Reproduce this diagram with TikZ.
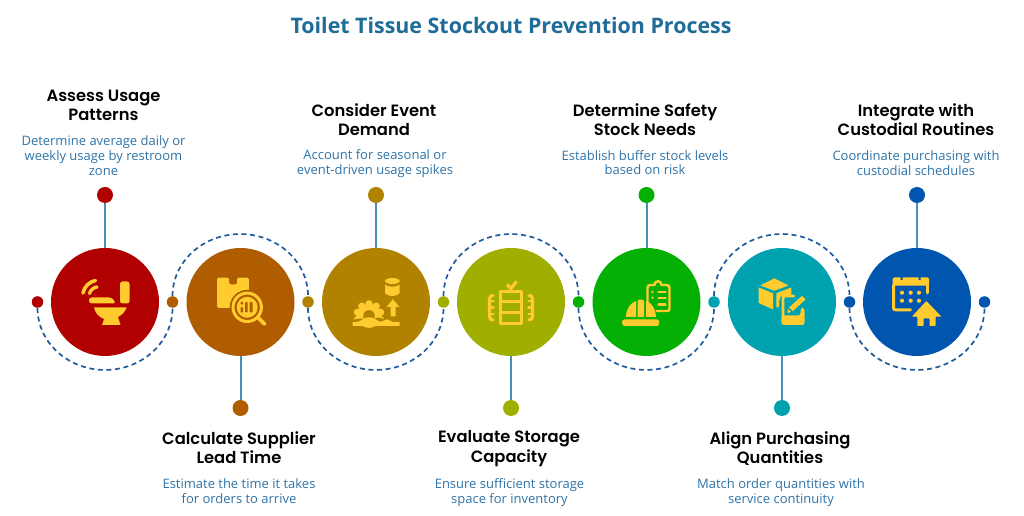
\documentclass[tikz,border=0pt]{standalone}
\usepackage{fontspec}
\setmainfont{Open Sans}
\newfontfamily\headfont{Poppins SemiBold}
\newfontfamily\titlefont{Open Sans}[UprightFont=* Bold]
\definecolor{cA}{HTML}{B00000}
\definecolor{cB}{HTML}{B05C00}
\definecolor{cC}{HTML}{B08200}
\definecolor{cD}{HTML}{A0AE00}
\definecolor{cE}{HTML}{04B004}
\definecolor{cF}{HTML}{00A2B0}
\definecolor{cG}{HTML}{0055AE}
\definecolor{ico}{HTML}{FFCB2E}
\definecolor{ttl}{HTML}{1F6C98}
\definecolor{bodyc}{HTML}{2F74A8}
\definecolor{stem}{HTML}{4A8DB8}
\definecolor{arcc}{HTML}{1F5C9E}
\tikzset{
 big/.style={circle,minimum size=108pt,inner sep=0pt,fill=#1},
 small/.style={circle,minimum size=11.5pt,inner sep=0pt,fill=#1},
 enddot/.style={circle,minimum size=16pt,inner sep=0pt,fill=#1},
 stemline/.style={draw=stem,line width=2pt},
 dashline/.style={draw=arcc,line width=1.7pt,dash pattern=on 5pt off 3.6pt},
 head/.style={align=center,font=\headfont\fontsize{16.35}{19.5}\selectfont,text=black,inner sep=0pt},
 body/.style={align=center,font=\fontsize{13}{14.7}\selectfont,text=bodyc,inner sep=0pt},
 ifill/.style={fill=ico,draw=none},
 iline/.style={draw=ico,line width=#1,line cap=round,line join=round,fill=none},
 iline/.default=3pt
}
\newcommand{\iconat}[2]{\begin{scope}[shift={(#1.center)},yscale=-1,x=1pt,y=1pt]#2\end{scope}}
\begin{document}
\begin{tikzpicture}[x=1pt,y=1pt]
\useasboundingbox (0,0) rectangle (1024,516);
\fill[white] (0,0) rectangle (1024,516);
\node[font=\titlefont\fontsize{21.4}{24}\selectfont,text=ttl,inner sep=0pt] (title) at (511,491) {Toilet Tissue Stockout Prevention Process};
% small dots
\node[small=cA] (d1) at (37.5,214) {};
\node[small=cB] (d2) at (172.5,214) {};
\node[small=cC] (d3) at (308,214) {};
\node[small=cD] (d4) at (443.5,214) {};
\node[small=cE] (d5) at (578.5,214) {};
\node[small=cF] (d6) at (714,214) {};
\node[small=cG] (d7) at (849.5,214) {};
\node[small=cG] (d8) at (984.5,214) {};
% dashed arcs
\draw[dashline] (d1.south) arc[start angle=180,end angle=360,x radius=67.5,y radius=62];
\draw[dashline] (d2.north) arc[start angle=180,end angle=0,x radius=67.75,y radius=62];
\draw[dashline] (d3.south) arc[start angle=180,end angle=360,x radius=67.75,y radius=62];
\draw[dashline] (d4.north) arc[start angle=180,end angle=0,x radius=67.5,y radius=62];
\draw[dashline] (d5.south) arc[start angle=180,end angle=360,x radius=67.75,y radius=62];
\draw[dashline] (d6.north) arc[start angle=180,end angle=0,x radius=67.75,y radius=62];
\draw[dashline] (d7.south) arc[start angle=180,end angle=360,x radius=67.5,y radius=62];
% end dots
\node[enddot=cA] (e1) at (105,321) {};
\node[enddot=cB] (e2) at (240.5,108) {};
\node[enddot=cC] (e3) at (376,321) {};
\node[enddot=cD] (e4) at (511,108) {};
\node[enddot=cE] (e5) at (646.5,321) {};
\node[enddot=cF] (e6) at (782,108) {};
\node[enddot=cG] (e7) at (917,321) {};
% big circles
\node[big=cA] (c1) at (105,214) {};
\node[big=cB] (c2) at (240.5,214) {};
\node[big=cC] (c3) at (376,214) {};
\node[big=cD] (c4) at (511,214) {};
\node[big=cE] (c5) at (646.5,214) {};
\node[big=cF] (c6) at (782,214) {};
\node[big=cG] (c7) at (917,214) {};
% stems
\draw[stemline] (c1) -- (e1);
\draw[stemline] (c2) -- (e2);
\draw[stemline] (c3) -- (e3);
\draw[stemline] (c4) -- (e4);
\draw[stemline] (c5) -- (e5);
\draw[stemline] (c6) -- (e6);
\draw[stemline] (c7) -- (e7);
% texts
\node[head] (h1) at (103.5,410.5) {Assess Usage\\Patterns};
\node[body] (b1) at (103.5,360.5) {Determine average daily or\\weekly usage by restroom\\zone};
\node[head] (h2) at (239,68.5) {Calculate Supplier\\Lead Time};
\node[body] (b2) at (239,25) {Estimate the time it takes\\for orders to arrive};
\node[head] (h3) at (374,396.5) {Consider Event\\Demand};
\node[body] (b3) at (375,352.5) {Account for seasonal or\\event-driven usage spikes};
\node[head] (h4) at (509,67.5) {Evaluate Storage\\Capacity};
\node[body] (b4) at (509.5,23.5) {Ensure sufficient storage\\space for inventory};
\node[head] (h5) at (645,396.5) {Determine Safety\\Stock Needs};
\node[body] (b5) at (645,353.5) {Establish buffer stock levels\\based on risk};
\node[head] (h6) at (780,67.5) {Align Purchasing\\Quantities};
\node[body] (b6) at (781,23.5) {Match order quantities with\\service continuity};
\node[head] (h7) at (916,396.5) {Integrate with\\Custodial Routines};
\node[body] (b7) at (916,353) {Coordinate purchasing with\\custodial schedules};
% icon 1: toilet
\iconat{c1}{
 \fill[ifill,rounded corners=2.5pt] (15,-20.5) rectangle (24.5,1.5);
 \fill[ifill,rounded corners=2.8pt] (-16,-4.5) -- (7,-4.5) -- (11,1.5) -- (-16,1.5) -- cycle;
 \fill[ifill] (-11,5.3) -- (21.7,5.3) .. controls (20,10) and (17,13) .. (13,15) -- (15.5,23) -- (-3,23) -- (-1,17) .. controls (-7,15) and (-10,10) .. (-11,5.3) -- cycle;
 \draw[iline=3.6pt] (-22,-9) .. controls (-21,-15) and (-15.5,-20.5) .. (-9.5,-21.5);
 \draw[iline=3.4pt] (-15.5,-8.5) .. controls (-14.5,-12) and (-11.5,-14.5) .. (-8,-15);
}
% icon 2: parcel and magnifier
\iconat{c2}{
 \fill[ifill,rounded corners=1.5pt] (-23.5,-24.3) -- (-11.5,-24.3) -- (-11.5,-17.5) -- (-3.5,-17.5) -- (-3.5,-24.3) -- (8.3,-24.3) -- (8.3,6) -- (-23.5,6) -- cycle;
 \fill[cB] (6.7,5.3) circle (17.5);
 \draw[iline=3pt,fill=none] (6.7,5.3) circle (14.2);
 \fill[ico] (6.7,5.3) circle (10.5);
 \draw[iline=3.8pt] (17.5,15.5) -- (24,22);
 \fill[cB] (0,0) rectangle (2.5,2.5) (0,5.5) rectangle (2.5,10.5);
 \fill[cB,rounded corners=0.8pt] (4.7,0) rectangle (7.2,10.5) (9.2,0) rectangle (12,10.5);
}
% icon 3: gear, arrow, drum
\iconat{c3}{
 \fill[ifill] (9,-17.5) .. controls (11,-14.5) and (21.7,-14.5) .. (23.7,-17.5) -- (23.7,-9) .. controls (21.7,-5) and (11,-5) .. (9,-9) -- cycle;
 \fill[ifill] (16.4,-21) ellipse (7.3 and 3);
 \fill[ifill] (16.8,-2.8) -- (23.5,5) -- (19.5,5) -- (19.5,14.5) -- (14.5,14.5) -- (14.5,5) -- (10.5,5) -- cycle;
 \begin{scope}[shift={(-7,14)}]
  \foreach \a in {-108,-72,-36,0,36,72,108}
   \fill[ifill,rotate=\a,rounded corners=1.5pt] (-4,-10) -- (4,-10) -- (2.8,-15.5) -- (-2.8,-15.5) -- cycle;
  \fill[ifill] (0,0) circle (12);
  \fill[cC] (0,0) circle (5.8);
  \fill[cC] (-19,4) -- (-8,2.5) -- (-3,3) -- (4,3) -- (9,1.5) -- (19,4) -- (19,8) -- (-19,8) -- cycle;
 \end{scope}
 \fill[ifill] (-23.5,24) -- (-23.5,20) .. controls (-19,20.5) and (-16,19.5) .. (-13.5,17.5) .. controls (-11,14.5) and (-3,14.5) .. (0,17.5) .. controls (3,20.5) and (6,20) .. (9,18) .. controls (11,16) and (14,19) .. (17,20) -- (23.5,20) -- (23.5,24) -- cycle;
}
% icon 4: shelves with check
\iconat{c4}{
 \draw[iline=3pt] (-10.5,-10.5) rectangle (10.5,21.5);
 \draw[iline=3pt] (-10.5,0) -- (10.5,0) (-10.5,10.5) -- (10.5,10.5);
 \draw[iline=3.2pt] (-3.5,-17) -- (0,-13.5) -- (5,-20);
 \draw[iline=3.2pt] (-18,-6.5) .. controls (-20.5,-6.5) and (-21.5,-5.5) .. (-21.5,-3) -- (-21.5,14) .. controls (-21.5,16.5) and (-20.5,18) .. (-18,18);
 \draw[iline=2.8pt] (-21.5,-1) -- (-17.5,-1) (-21.5,5.5) -- (-17.5,5.5) (-21.5,12) -- (-17.5,12);
 \draw[iline=3.2pt] (18,-6.5) .. controls (20.5,-6.5) and (21.5,-5.5) .. (21.5,-3) -- (21.5,14) .. controls (21.5,16.5) and (20.5,18) .. (18,18);
 \draw[iline=2.8pt] (21.5,-1) -- (17.5,-1) (21.5,5.5) -- (17.5,5.5) (21.5,12) -- (17.5,12);
}
% icon 5: helmet and clipboard
\iconat{c5}{
 \draw[iline=2.4pt] (1,3) -- (1,-14) .. controls (1,-16) and (2,-17) .. (4,-17) -- (8,-17) .. controls (8,-22) and (15,-22) .. (15,-17) -- (20,-17) .. controls (22,-17) and (23,-16) .. (23,-14) -- (23,7) .. controls (23,8.5) and (22,9) .. (20,9) -- (10,9);
 \fill[ico] (6,-10) circle (1.3) (6,-4.2) circle (1.3);
 \draw[iline=2.2pt] (12,-10) -- (19,-10) (12,-4) -- (19,-4) (12,2.5) -- (19,2.5);
 \fill[ifill] (-20.5,14.8) .. controls (-20.5,7) and (-16,1) .. (-10.5,-1) -- (-10.5,14.8) -- cycle;
 \fill[ifill] (-9,14.8) -- (-9,0) .. controls (-9,-2.5) and (-8,-2.5) .. (-5.5,-2.5) .. controls (-3,-2.5) and (-2,-1.5) .. (-2.3,0) -- (-2.3,14.8) -- cycle;
 \fill[ifill] (-0.5,14.8) -- (-0.5,-1) .. controls (5,0) and (9,7) .. (9.5,14.8) -- cycle;
 \fill[ifill,rounded corners=2.5pt] (-24.3,17.3) rectangle (12.7,24);
}
% icon 6: box and tablet
\iconat{c6}{
 \fill[ifill] (-7.7,-23.7) -- (6.7,-16.5) -- (-7.7,-11.3) -- (-21.7,-16.5) -- cycle;
 \fill[ifill] (-23.3,-14.5) -- (-9,-8.7) -- (-9,7.3) -- (-23.3,1) -- cycle;
 \fill[ifill] (-5.7,-8.7) -- (9.3,-14.5) -- (9.3,-6.5) -- (1.5,-6.5) .. controls (-1.5,-6.5) and (-2.8,-4) .. (-2.8,-1) -- (-2.8,4.5) -- (-5.7,5.5) -- cycle;
 \draw[iline=2.8pt] (12,-6) -- (3.5,-6) .. controls (1,-6) and (1,-4.5) .. (1,-3) -- (1,20) ;
 \fill[ifill,rounded corners=2.5pt] (-0.5,13.5) -- (-0.5,23) -- (22.5,23) -- (22.5,6) -- (18.5,6) -- (18.5,13.5) -- cycle;
 \fill[ifill] (20,-6) -- (23.5,-2.5) -- (11,9) -- (7,5.5) -- cycle;
 \fill[ifill] (6,7) -- (9,10) -- (5.5,11) -- cycle;
}
% icon 7: calendar and house
\iconat{c7}{
 \draw[iline=3pt] (-23.5,-17) -- (-23.5,6) .. controls (-23.5,8) and (-22.5,7.8) .. (-21,7.8) -- (-6.5,7.8);
 \fill[ifill,rounded corners=2pt] (-24.3,-24.7) -- (12,-24.7) -- (12,-16.3) -- (-24.3,-16.3) -- cycle;
 \fill[cG] (-16.5,-25) rectangle (-14.5,-22) (1.5,-25) rectangle (3.5,-22);
 \draw[iline=3pt] (10.5,-18) -- (10.5,-9);
 \fill[ico] (-15,-9.3) circle (2.1) (-6.3,-9.3) circle (2.1) (2,-9.3) circle (2.1)
            (-15,-1.3) circle (2.1) (-6.3,-1.3) circle (2.1) (2,-1.3) circle (2.1);
 \fill[ifill,rounded corners=0.7pt] (9.3,-1) -- (24.5,14.7) -- (18.5,14.7) -- (18.5,24) -- (12.5,24) -- (12.5,16.5) -- (6.5,16.5) -- (6.5,24) -- (0.3,24) -- (0.3,14.7) -- (-5.2,14.7) -- cycle;
}
\end{tikzpicture}
\end{document}
